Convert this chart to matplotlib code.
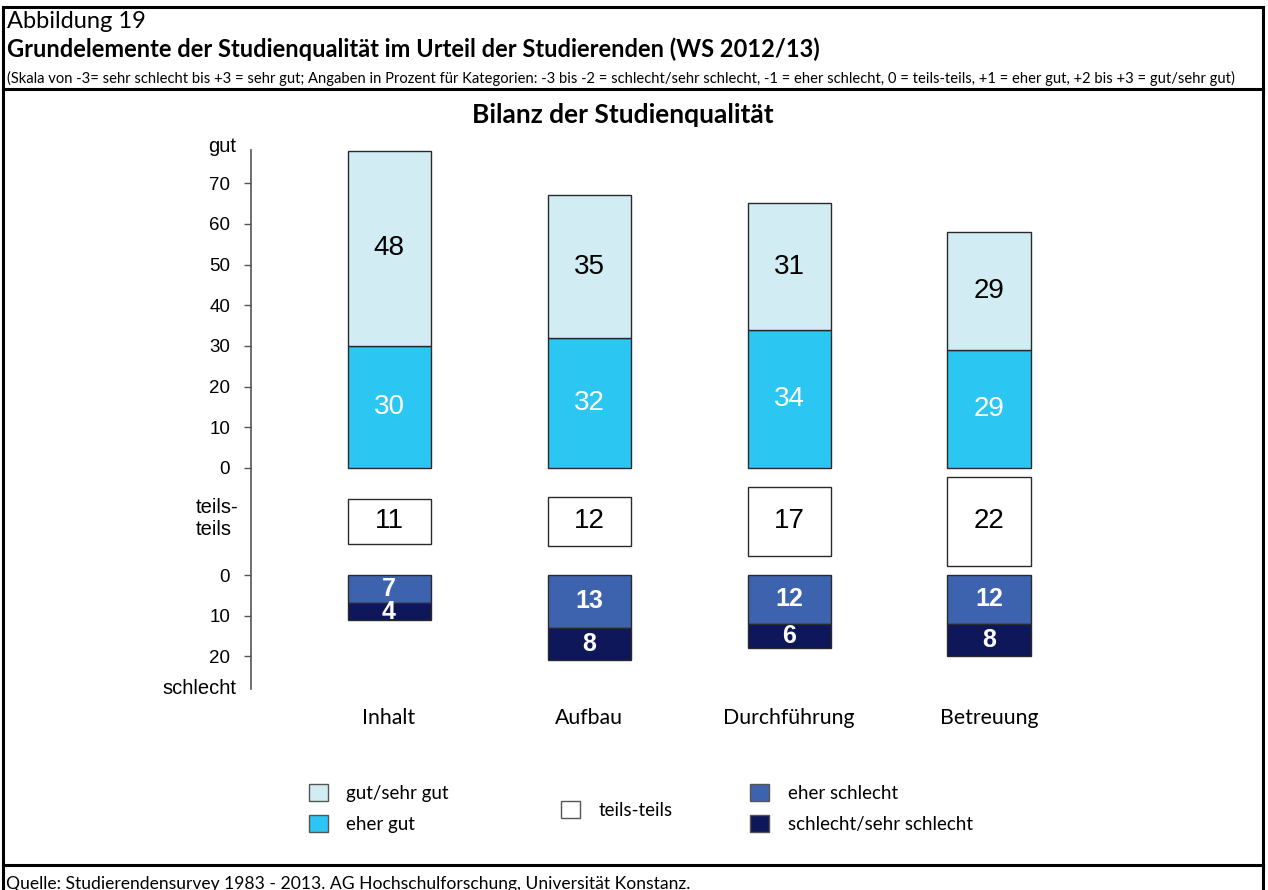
import numpy as np
import matplotlib.pyplot as plt
from matplotlib.patches import Patch
from matplotlib.lines import Line2D

# data (percent)
categories = ['Inhalt', 'Aufbau', 'Durchführung', 'Betreuung']
gut_sehr_gut = [48, 35, 31, 29]
eher_gut = [30, 32, 34, 29]
teils_teils = [11, 12, 17, 22]
eher_schlecht = [7, 13, 12, 12]
schlecht_sehr_schlecht = [4, 8, 6, 8]
upper_ticks = [0, 10, 20, 30, 40, 50, 60, 70]
lower_ticks = [0, 10, 20]

c_gut = '#D1ECF2'
c_ehergut = '#2CC6F2'
c_teils = '#FFFFFF'
c_eherschlecht = '#3D63AE'
c_schlecht = '#0E175A'
edge = '#2a2a2a'

head_font = 'Lato'
num_font = 'Liberation Sans'

W, H = 1268, 890
fig = plt.figure(figsize=(W / 100, H / 100), dpi=100)

def fx(px):
    return px / W

def fy(py):
    return 1 - py / H

# frame lines
lw = 2.2
for (x0, y0, x1, y1) in [(3, 7, 1263, 7), (3, 7, 3, 890), (1263, 7, 1263, 890),
                         (3, 89, 1263, 89), (3, 865, 1263, 865)]:
    fig.add_artist(Line2D([fx(x0), fx(x1)], [fy(y0), fy(y1)], color='black', lw=lw))

fig.text(fx(7), fy(21), 'Abbildung 19', family=head_font, fontsize=17, va='center')
fig.text(fx(7), fy(49), 'Grundelemente der Studienqualität im Urteil der Studierenden (WS 2012/13)',
         family=head_font, fontsize=17, fontweight='bold', va='center')
fig.text(fx(7), fy(78), '(Skala von -3= sehr schlecht bis +3 = sehr gut; Angaben in Prozent für Kategorien: '
         '-3 bis -2 = schlecht/sehr schlecht, -1 = eher schlecht, 0 = teils-teils, +1 = eher gut, '
         '+2 bis +3 = gut/sehr gut)', family=head_font, fontsize=10.6, va='center')
fig.text(fx(623), fy(115), 'Bilanz der Studienqualität', family=head_font, fontsize=19,
         fontweight='bold', ha='center', va='center')
fig.text(fx(6), fy(884), 'Quelle: Studierendensurvey 1983 - 2013. AG Hochschulforschung, Universität Konstanz.',
         family=head_font, fontsize=12.6, va='center')

# chart axes: scale 4.07 px per percent, upper zero at px 468, lower zero at px 575
scale = 4.07
top_px, bot_px = 150, 689
ax = fig.add_axes([fx(251), fy(bot_px), fx(1100) - fx(251), (bot_px - top_px) / H])
ax.set_ylim((468 - bot_px) / scale, (468 - top_px) / scale)
low0 = -(575 - 468) / scale
mid = low0 / 2

pos = np.arange(len(categories))
ax.set_xlim((251 - 389) / 200, (1100 - 389) / 200)
bw = 0.415

ge = np.array(eher_gut)
gs = np.array(gut_sehr_gut)
tt = np.array(teils_teils)
es = np.array(eher_schlecht)
ss = np.array(schlecht_sehr_schlecht)

ax.bar(pos, ge, width=bw, color=c_ehergut, edgecolor=edge, linewidth=1)
ax.bar(pos, gs, bottom=ge, width=bw, color=c_gut, edgecolor=edge, linewidth=1)
ax.bar(pos, tt, bottom=mid - tt / 2, width=bw, color=c_teils, edgecolor=edge, linewidth=1)
ax.bar(pos, -es, bottom=low0, width=bw, color=c_eherschlecht, edgecolor=edge, linewidth=1)
ax.bar(pos, -ss, bottom=low0 - es, width=bw, color=c_schlecht, edgecolor=edge, linewidth=1)

for i in range(len(categories)):
    ax.text(pos[i], ge[i] / 2, str(ge[i]), ha='center', va='center', color='white',
            family=num_font, fontsize=20)
    ax.text(pos[i], ge[i] + gs[i] / 2, str(gs[i]), ha='center', va='center', color='black',
            family=num_font, fontsize=20)
    ax.text(pos[i], mid, str(tt[i]), ha='center', va='center', color='black',
            family=num_font, fontsize=20)
    ax.text(pos[i], low0 - es[i] / 2, str(es[i]), ha='center', va='center', color='white',
            family=num_font, fontsize=18, fontweight='bold')
    ax.text(pos[i], low0 - es[i] - ss[i] / 2, str(ss[i]), ha='center', va='center', color='white',
            family=num_font, fontsize=18, fontweight='bold')
    ax.text(pos[i], (468 - 718) / scale, categories[i], ha='center', va='center',
            family=head_font, fontsize=15.3, clip_on=False)

# y axis
ticks = list(upper_ticks) + [low0 - t for t in lower_ticks]
labels = [str(t) for t in upper_ticks] + [str(t) for t in lower_ticks]
ax.set_yticks(ticks)
ax.set_yticklabels(labels, family=num_font, fontsize=13.5)
ax.tick_params(axis='y', length=5, width=1, color='#555555', pad=10)
ax.tick_params(axis='x', length=0, labelbottom=False)
for s in ['top', 'right', 'bottom']:
    ax.spines[s].set_visible(False)
ax.spines['left'].set_color('#555555')
ax.spines['left'].set_linewidth(1.2)

ax.text(-0.017, (468 - 146) / scale, 'gut', transform=ax.get_yaxis_transform(),
        ha='right', va='center', family=num_font, fontsize=14.5, clip_on=False)
ax.text(-0.015, mid + 0.8, 'teils-\nteils', transform=ax.get_yaxis_transform(),
        ha='right', va='center', multialignment='left', family=num_font, fontsize=14.5,
        linespacing=1.2, clip_on=False)
ax.text(-0.017, (468 - 688) / scale, 'schlecht', transform=ax.get_yaxis_transform(),
        ha='right', va='center', family=num_font, fontsize=14.5, clip_on=False)

# legend
def sq(c):
    return Patch(facecolor=c, edgecolor='#555555', linewidth=1)

leg_kw = dict(frameon=False, handlelength=1.0, handleheight=1.0, handletextpad=1.0,
              labelspacing=0.7, borderpad=0, borderaxespad=0, loc='upper left',
              prop={'family': head_font, 'size': 13.5})
fig.legend([sq(c_gut), sq(c_ehergut)], ['gut/sehr gut', 'eher gut'],
           bbox_to_anchor=(fx(309), fy(784)), **leg_kw)
fig.legend([sq(c_teils)], ['teils-teils'],
           bbox_to_anchor=(fx(561), fy(801)), **leg_kw)
fig.legend([sq(c_eherschlecht), sq(c_schlecht)], ['eher schlecht', 'schlecht/sehr schlecht'],
           bbox_to_anchor=(fx(750), fy(784)), **leg_kw)

fig.savefig('out.png', dpi=100)
